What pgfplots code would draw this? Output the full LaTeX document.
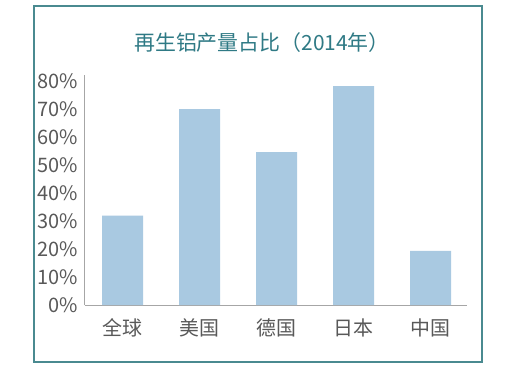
\documentclass[border=0pt]{standalone}
\usepackage{pgfplots}
\pgfplotsset{compat=1.18}
\usepackage{fontspec}
\setmainfont{Noto Sans CJK SC}
\definecolor{framecol}{HTML}{4A8A90}
\definecolor{titlecol}{HTML}{2F7A85}
\definecolor{barcol}{HTML}{A9C9E1}
\definecolor{ticktext}{HTML}{595959}
\definecolor{axiscol}{HTML}{A6A6A6}
\begin{document}
\begin{tikzpicture}
\useasboundingbox (0,0) rectangle (256bp,183.5bp);
\fill[white] (0,0) rectangle (256bp,183.5bp);
\draw[color=framecol, line width=1.1bp] (17bp,2.5bp) rectangle (241bp,180.5bp);
\node[text=titlecol, font=\fontsize{10.5}{12}\selectfont] at (131bp,162bp) {再生铝产量占比（2014年）};
\begin{axis}[
  at={(42.4bp,31bp)}, anchor=south west,
  x=38.5bp, y=1.4bp,
  xmin=-0.49, xmax=4.48, ymin=0, ymax=82,
  axis x line=bottom, axis y line=left,
  axis line style={-, draw=axiscol, line width=0.5bp},
  ybar, bar width=20.5bp,
  xtick=data, xticklabels={全球,美国,德国,日本,中国},
  ytick={0,10,...,80},
  yticklabel={\pgfmathprintnumber{\tick}\%},
  /pgf/number format/assume math mode=true,
  major tick length=0pt,
  tick label style={text=ticktext, font=\fontsize{10}{12}\selectfont},
  xticklabel style={yshift=-3.5bp},
  clip=false,
]
\addplot[fill=barcol, draw=none] coordinates {(0,31.9) (1,70) (2,54.6) (3,78.2) (4,19.3)};
\end{axis}
\end{tikzpicture}
\end{document}
